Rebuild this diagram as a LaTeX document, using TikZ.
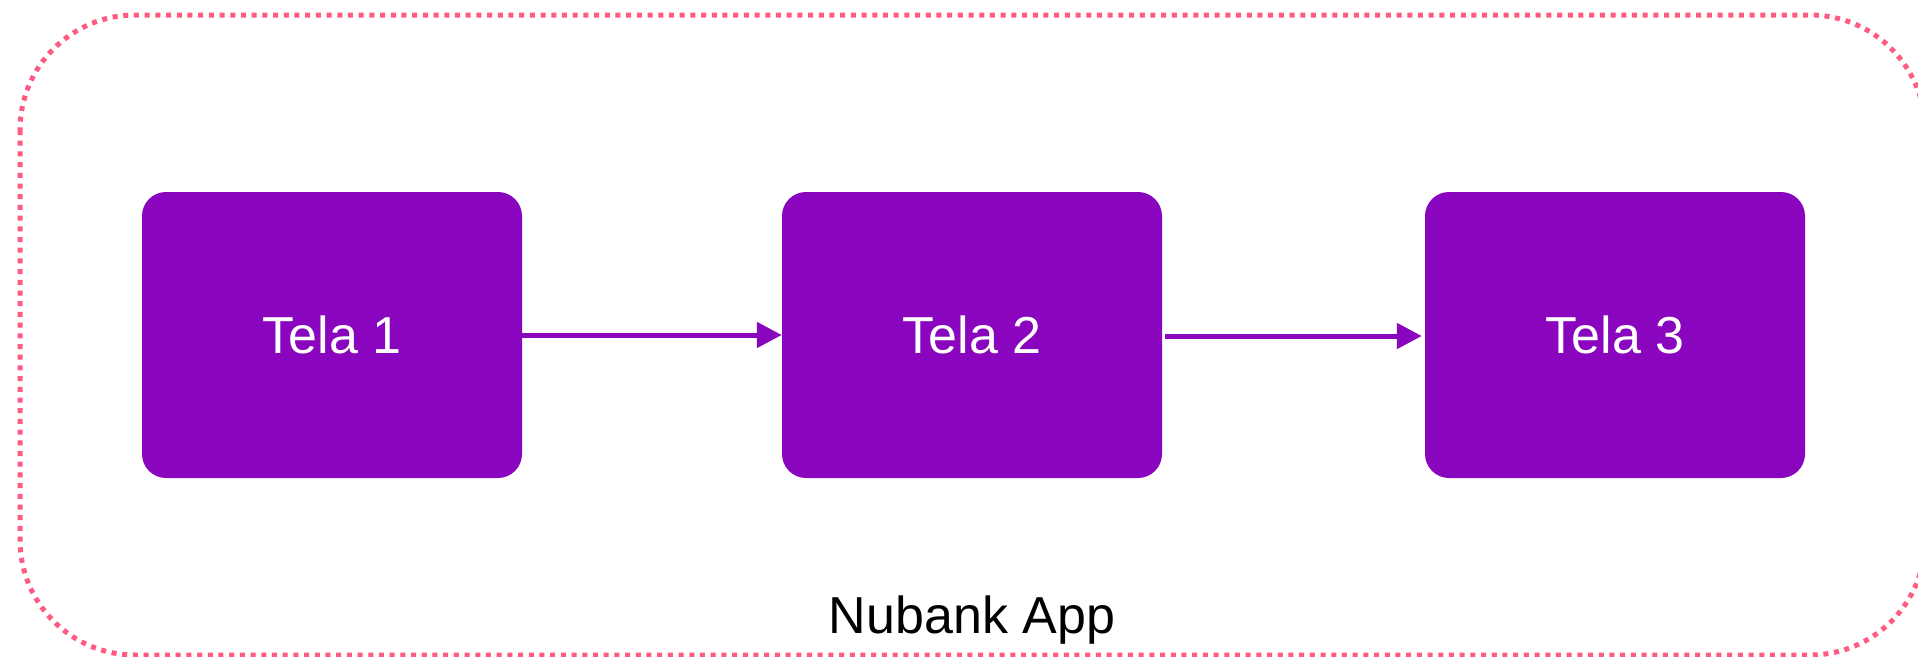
\documentclass[tikz,border=0pt]{standalone}
\usepackage{fontspec}
\setmainfont{Liberation Sans}
\usetikzlibrary{arrows.meta}
\definecolor{nupurple}{RGB}{138,5,190}
\definecolor{dotpink}{RGB}{255,90,128}
\tikzset{
  screen/.style={rectangle, fill=nupurple, draw=none, rounded corners=24pt,
    minimum width=380pt, minimum height=286pt, text=white,
    font=\fontsize{52pt}{60pt}\selectfont, inner sep=0pt},
  flow/.style={draw=nupurple, line width=5pt,
    -{Triangle[length=25pt,width=25pt]}},
  frame/.style={draw=dotpink, line width=5pt, dash pattern=on 5pt off 5.7pt,
    rounded corners=115pt}
}
\begin{document}
\begin{tikzpicture}[x=1pt,y=-1pt]
  \useasboundingbox (0,0) rectangle (1918,656);
  \begin{scope}
    \clip (0,0) rectangle (1918,656);
    \draw[frame] (20,15) rectangle (1925,655);
  \end{scope}
  \node[screen] (t1) at (332,335) {Tela 1};
  \node[screen] (t2) at (972,335) {Tela 2};
  \node[screen] (t3) at (1615,335) {Tela 3};
  \draw[flow] (t1.east |- 0,335) -- (t2.west |- 0,335);
  \draw[flow] ([xshift=3pt]t2.east |- 0,336) -- ([xshift=-3pt]t3.west |- 0,336);
  \node[anchor=base, font=\fontsize{52pt}{60pt}\selectfont] (app) at (972,633) {Nubank App};
\end{tikzpicture}
\end{document}
